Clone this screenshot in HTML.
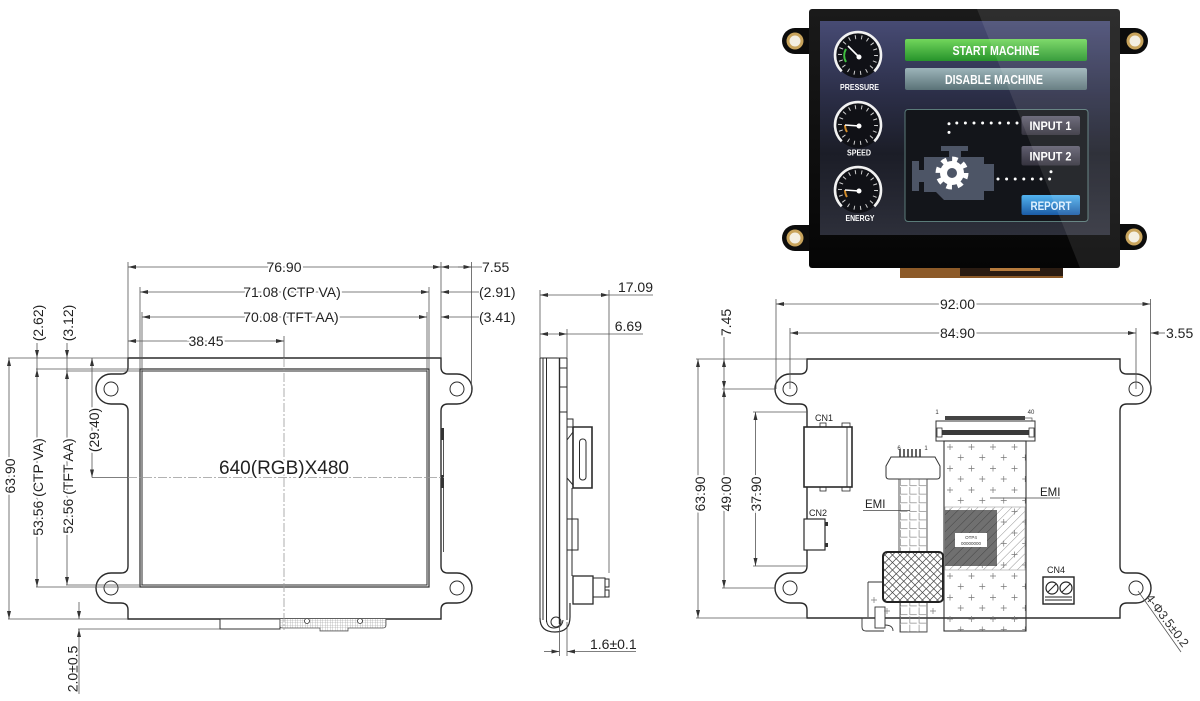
<!DOCTYPE html>
<html><head><meta charset="utf-8"><title>Display mechanical drawing</title>
<style>
html,body{margin:0;padding:0;background:#fff;width:1200px;height:701px;overflow:hidden}
svg{display:block}
text{font-family:"Liberation Sans",Arial,sans-serif}
.t{font-size:14px;fill:#222;stroke:#fff;stroke-width:4px;paint-order:stroke}
.tn{font-size:14px;fill:#222}
.b{font-weight:bold;fill:#fff}
</style>
</head><body>
<svg width="1200" height="701" viewBox="0 0 1200 701" xmlns="http://www.w3.org/2000/svg">
<defs>
 <marker id="m" viewBox="0 0 8 4" refX="8" refY="2" markerWidth="8" markerHeight="4" orient="auto-start-reverse" markerUnits="userSpaceOnUse"><path d="M0,0L8,2L0,4z" fill="#333"/></marker>
 <pattern id="plus" x="944" y="441" width="21.5" height="21.5" patternUnits="userSpaceOnUse"><path d="M3,6h6M6,3v6M13.75,16.5h6M16.75,13.5v6" stroke="#777" stroke-width="0.7"/></pattern>
 <pattern id="grid" x="899" y="478" width="9.3" height="8.6" patternUnits="userSpaceOnUse"><path d="M1.5,0.5V7.5H8.5" fill="none" stroke="#888" stroke-width="0.7"/></pattern>
 <pattern id="xh" width="7.5" height="7.5" patternUnits="userSpaceOnUse"><rect width="7.5" height="7.5" fill="#fff"/><path d="M0,0L7.5,7.5M7.5,0L0,7.5" stroke="#444" stroke-width="0.7"/></pattern>
 <pattern id="dh" width="6" height="6" patternUnits="userSpaceOnUse" patternTransform="rotate(45)"><path d="M0,0V6" stroke="#777" stroke-width="0.8"/></pattern>
 <pattern id="dk" width="6" height="6" patternUnits="userSpaceOnUse" patternTransform="rotate(45)"><rect width="6" height="6" fill="#707070"/><path d="M0,0V6" stroke="#3e3e3e" stroke-width="0.9"/></pattern>
 <pattern id="fh" width="2.5" height="2.5" patternUnits="userSpaceOnUse"><rect width="2.5" height="2.5" fill="#fff"/><path d="M0,0H2.5M0,0V2.5" stroke="#999" stroke-width="0.6"/></pattern>
 <linearGradient id="bez" x1="0" y1="0" x2="0" y2="1"><stop offset="0" stop-color="#1a1a1a"/><stop offset="1" stop-color="#050505"/></linearGradient>
 <linearGradient id="scr" x1="0" y1="0" x2="0" y2="1">
  <stop offset="0" stop-color="#474b74"/><stop offset="0.35" stop-color="#2b2e47"/><stop offset="0.62" stop-color="#1b1d27"/><stop offset="1" stop-color="#2d2f3a"/>
 </linearGradient>
 <linearGradient id="grn" x1="0" y1="0" x2="0" y2="1"><stop offset="0" stop-color="#72d65c"/><stop offset="1" stop-color="#26932b"/></linearGradient>
 <linearGradient id="gry" x1="0" y1="0" x2="0" y2="1"><stop offset="0" stop-color="#9cb4b9"/><stop offset="1" stop-color="#5a7277"/></linearGradient>
 <linearGradient id="inp" x1="0" y1="0" x2="0" y2="1"><stop offset="0" stop-color="#615f70"/><stop offset="1" stop-color="#35333e"/></linearGradient>
 <linearGradient id="blu" x1="0" y1="0" x2="0" y2="1"><stop offset="0" stop-color="#52b3ef"/><stop offset="1" stop-color="#1b5ca6"/></linearGradient>
</defs>

<!-- ================= PRODUCT PHOTO ================= -->
<g>
 <rect x="900" y="266" width="163" height="12" fill="#8c5a28"/>
 <rect x="960" y="266" width="103" height="10" fill="#2b1c12"/>
 <rect x="990" y="267" width="50" height="4" fill="#b57a3c"/>
 <g fill="#0c0c0c">
  <circle cx="795" cy="41" r="13"/><rect x="795" y="28" width="16" height="26"/>
  <circle cx="795" cy="238" r="13"/><rect x="795" y="225" width="16" height="26"/>
  <circle cx="1135" cy="41" r="13"/><rect x="1118" y="28" width="17" height="26"/>
  <circle cx="1134" cy="237" r="13"/><rect x="1118" y="224" width="16" height="26"/>
 </g>
 <g fill="#c9a45c"><circle cx="795" cy="41" r="8.5"/><circle cx="795" cy="238" r="8.5"/><circle cx="1135" cy="41" r="8.5"/><circle cx="1134" cy="237" r="8.5"/></g>
 <g fill="#f4efe2"><circle cx="795" cy="41" r="5.5"/><circle cx="795" cy="238" r="5.5"/><circle cx="1135" cy="41" r="5.5"/><circle cx="1134" cy="237" r="5.5"/></g>
 <rect x="809" y="9" width="311" height="259" rx="3" fill="url(#bez)"/>
 <rect x="820" y="21" width="290" height="214" fill="url(#scr)"/>
 <g transform="translate(858,55)">
  <circle r="23" fill="#101116"/>
  <path d="M-16.3,16.3A23,23 0 1 1 16.3,16.3" fill="none" stroke="#f2f2f2" stroke-width="2.6"/>
  <circle r="18" fill="none" stroke="#d0d0d0" stroke-width="4" stroke-dasharray="1 5.28"/>
  <path d="M-12,-6A13,13 0 0 0 -12,7" stroke="#3fbf3f" stroke-width="2" fill="none"/>
  <line x1="1" y1="2" x2="-10" y2="-9" stroke="#fff" stroke-width="1.6"/><circle cx="1" cy="2" r="2.5" fill="#fff"/>
 </g>
 <g transform="translate(858,125)">
  <circle r="23" fill="#101116"/>
  <path d="M-16.3,16.3A23,23 0 1 1 16.3,16.3" fill="none" stroke="#f2f2f2" stroke-width="2.6"/>
  <circle r="18" fill="none" stroke="#d0d0d0" stroke-width="4" stroke-dasharray="1 5.28"/>
  <path d="M-13,0A13,13 0 0 0 -11,7" stroke="#d08a2a" stroke-width="2" fill="none"/>
  <line x1="1" y1="1" x2="-13" y2="0" stroke="#fff" stroke-width="1.6"/><circle cx="1" cy="1" r="2.5" fill="#fff"/>
 </g>
 <g transform="translate(858,190)">
  <circle r="23" fill="#101116"/>
  <path d="M-16.3,16.3A23,23 0 1 1 16.3,16.3" fill="none" stroke="#f2f2f2" stroke-width="2.6"/>
  <circle r="18" fill="none" stroke="#d0d0d0" stroke-width="4" stroke-dasharray="1 5.28"/>
  <path d="M-13,0A13,13 0 0 0 -11,7" stroke="#d08a2a" stroke-width="2" fill="none"/>
  <line x1="1" y1="1" x2="-13" y2="0" stroke="#fff" stroke-width="1.6"/><circle cx="1" cy="1" r="2.5" fill="#fff"/>
 </g>
 <g font-size="8" class="b" text-anchor="middle">
  <text x="859.5" y="90" textLength="39" lengthAdjust="spacingAndGlyphs">PRESSURE</text>
  <text x="859" y="155.5" textLength="24" lengthAdjust="spacingAndGlyphs">SPEED</text>
  <text x="860" y="221" textLength="29" lengthAdjust="spacingAndGlyphs">ENERGY</text>
 </g>
 <rect x="905" y="39" width="182" height="22" rx="2" fill="url(#grn)"/>
 <rect x="905" y="68" width="182" height="22" rx="2" fill="url(#gry)"/>
 <g font-size="13" class="b" text-anchor="middle">
  <text x="996" y="55" textLength="87" lengthAdjust="spacingAndGlyphs">START MACHINE</text>
  <text x="994" y="84" textLength="98" lengthAdjust="spacingAndGlyphs">DISABLE MACHINE</text>
 </g>
 <rect x="905" y="109.5" width="183" height="112" rx="3" fill="#13151a" stroke="#5b7b79" stroke-width="1"/>
 <rect x="1021.5" y="116" width="58.5" height="19" rx="2" fill="url(#inp)"/>
 <rect x="1021.5" y="146" width="58.5" height="19.5" rx="2" fill="url(#inp)"/>
 <rect x="1021.5" y="195" width="58.5" height="20" rx="2" fill="url(#blu)"/>
 <g font-size="11.5" class="b" text-anchor="middle">
  <text x="1050.5" y="130" textLength="42" lengthAdjust="spacingAndGlyphs">INPUT 1</text>
  <text x="1050.5" y="160.5" textLength="42" lengthAdjust="spacingAndGlyphs">INPUT 2</text>
  <text x="1051" y="210" textLength="41" lengthAdjust="spacingAndGlyphs" style="fill:#dff1ff">REPORT</text>
 </g>
 <g stroke="#fff" stroke-width="3" stroke-linecap="round" stroke-dasharray="0 8.6" fill="none">
  <path d="M1017,123H949V141"/>
  <path d="M998,179H1051V170"/>
 </g>
 <g fill="#4d5566">
  <rect x="941" y="146" width="27" height="5"/>
  <rect x="949" y="150" width="12" height="7"/>
  <path d="M924,157H984V164H994V191H984V200H944L936,192H924Z"/>
  <rect x="912" y="161" width="7" height="30"/>
  <rect x="918" y="170" width="8" height="12"/>
 </g>
 <circle cx="952" cy="173" r="14" fill="none" stroke="#fff" stroke-width="5" stroke-dasharray="5.5 5.5"/>
 <circle cx="952" cy="173" r="12" fill="#fff"/>
 <circle cx="952" cy="173" r="5" fill="#4d5566"/>
 <polygon points="977,9 1120,9 1120,268 1080,268" fill="#fff" opacity="0.09"/>
</g>

<!-- ================= FRONT VIEW ================= -->
<g fill="none" stroke="#2a2a2a" stroke-width="1.4">
 <path d="M128,358H441V367Q441,374 448,374H457A15,15 0 0 1 457,404H448Q441,404 441,411V566Q441,573 448,573H457A15,15 0 0 1 457,603H448Q441,603 441,610V619H128V610Q128,603 121,603H111A15,15 0 0 1 111,573H121Q128,573 128,566V411Q128,404 121,404H111A15,15 0 0 1 111,374H121Q128,374 128,367Z"/>
 <g stroke-width="1"><circle cx="111" cy="389" r="7"/><circle cx="111" cy="588" r="7"/><circle cx="457" cy="389" r="7"/><circle cx="457" cy="588" r="7"/></g>
 <rect x="140" y="369" width="289" height="218" stroke-width="1.2"/>
 <rect x="142" y="371" width="285" height="214" stroke-width="1"/>
 <path d="M443.5,428V552" stroke-width="0.8"/>
</g>
<rect x="441" y="428" width="3" height="12" fill="#333"/>
<rect x="441" y="475" width="3" height="13" fill="#333"/>
<rect x="220" y="619" width="60" height="10" fill="#fff" stroke="#333" stroke-width="1"/>
<path d="M280,619V626Q280,628 283,628H320V631H348V628H383Q386,628 386,625V619" fill="url(#fh)" stroke="#555" stroke-width="0.8"/>
<circle cx="307" cy="621" r="2.5" fill="#fff" stroke="#333" stroke-width="0.8"/>
<circle cx="360" cy="621" r="2.5" fill="#fff" stroke="#333" stroke-width="0.8"/>
<g stroke="#999" stroke-width="0.8" fill="none" stroke-dasharray="9 2 2 2">
 <path d="M284,358V630"/>
 <path d="M128,477.5H444"/>
</g>
<text x="284" y="474" font-size="19" fill="#222" text-anchor="middle" stroke="#fff" stroke-width="4" paint-order="stroke">640(RGB)X480</text>

<g stroke="#555" stroke-width="0.8" fill="none">
 <path d="M128,262V358M441,262V358M140,287V369M429,287V369M142,312V371M427,312V371M471.5,262V389M284,336V358"/>
 <line x1="128" y1="267" x2="441" y2="267" marker-start="url(#m)" marker-end="url(#m)"/>
 <line x1="441" y1="267" x2="482" y2="267" marker-start="url(#m)"/>
 <line x1="458" y1="267" x2="471.5" y2="267" marker-end="url(#m)"/>
 <line x1="441" y1="292" x2="479" y2="292" marker-start="url(#m)"/>
 <line x1="441" y1="317" x2="479" y2="317" marker-start="url(#m)"/>
 <line x1="140" y1="292" x2="429" y2="292" marker-start="url(#m)" marker-end="url(#m)"/>
 <line x1="142" y1="317" x2="427" y2="317" marker-start="url(#m)" marker-end="url(#m)"/>
 <line x1="128" y1="341" x2="284" y2="341" marker-start="url(#m)" marker-end="url(#m)"/>
 <path d="M8,358H128M36,369H140M66,371H142M36,587H140M66,585H142M8,619H128M92,477.5H128M78,629H220"/>
 <line x1="9" y1="358" x2="9" y2="619" marker-start="url(#m)" marker-end="url(#m)"/>
 <line x1="37" y1="343" x2="37" y2="358" marker-end="url(#m)"/>
 <line x1="37" y1="358" x2="37" y2="369"/>
 <line x1="37" y1="369" x2="37" y2="587" marker-start="url(#m)" marker-end="url(#m)"/>
 <line x1="67" y1="343" x2="67" y2="358" marker-end="url(#m)"/>
 <line x1="67" y1="358" x2="67" y2="371"/>
 <line x1="67" y1="371" x2="67" y2="585" marker-start="url(#m)" marker-end="url(#m)"/>
 <line x1="92" y1="358" x2="92" y2="477.5" marker-start="url(#m)" marker-end="url(#m)"/>
 <line x1="79" y1="602" x2="79" y2="619" marker-end="url(#m)"/>
 <line x1="79" y1="629" x2="79" y2="694" marker-start="url(#m)"/>
</g>
<g text-anchor="middle">
 <text class="t" x="284" y="272">76.90</text>
 <text class="t" x="292" y="297">71.08 (CTP VA)</text>
 <text class="t" x="291" y="322">70.08 (TFT AA)</text>
 <text class="t" x="206" y="346">38.45</text>
 <text class="t" transform="translate(15,476) rotate(-90)">63.90</text>
 <text class="t" transform="translate(43,487) rotate(-90)">53.56 (CTP VA)</text>
 <text class="t" transform="translate(73,486) rotate(-90)">52.56 (TFT AA)</text>
 <text class="t" transform="translate(99,430) rotate(-90)">(29.40)</text>
 <text class="tn" transform="translate(43,323) rotate(-90)">(2.62)</text>
 <text class="tn" transform="translate(73,323) rotate(-90)">(3.12)</text>
 <text class="tn" transform="translate(77.5,669) rotate(-90)">2.0±0.5</text>
</g>
<text class="tn" x="482" y="272">7.55</text>
<text class="tn" x="479" y="297">(2.91)</text>
<text class="tn" x="479" y="322">(3.41)</text>

<!-- ================= SIDE VIEW ================= -->
<g fill="none" stroke="#2a2a2a" stroke-width="1">
 <path d="M540,358H567"/>
 <path d="M540,358V618M543,358V620M546.5,358V622"/>
 <path d="M559.5,358V624" stroke-width="1.4"/>
 <path d="M567,358V419M567,488V620"/>
 <path d="M559.5,368H567M559.5,387H567M559.5,412H567"/>
 <path d="M540,618Q540,632 555,632Q570,632 570,617V603" stroke-width="1.2"/>
 <path d="M546.5,620Q547,628 554,628Q562,628 563,620"/>
 <circle cx="556" cy="622" r="5"/>
 <rect x="567" y="419" width="6" height="8"/>
 <path d="M573,427H592V488H573V427" stroke-width="1.6"/>
 <path d="M567,440L573,432M567,478L573,485M567,427V488"/>
 <rect x="579.5" y="439" width="6.5" height="41" rx="3"/>
 <path d="M572,488V576"/>
 <rect x="567" y="519" width="11" height="31"/>
 <rect x="573" y="576" width="20" height="28" stroke-width="1.3"/>
 <path d="M593,578H605V597H593"/>
 <rect x="605" y="579" width="4" height="8"/><rect x="605" y="590" width="4" height="7"/>
</g>
<g stroke="#555" stroke-width="0.8" fill="none">
 <path d="M540,290V358M609,290V573M567,329V358M559.5,624V656M567,622V656"/>
 <line x1="540" y1="295" x2="609" y2="295" marker-start="url(#m)" marker-end="url(#m)"/>
 <path d="M609,295H653"/>
 <line x1="540" y1="334" x2="567" y2="334" marker-start="url(#m)" marker-end="url(#m)"/>
 <path d="M567,334H643"/>
 <line x1="544" y1="651.5" x2="559.5" y2="651.5" marker-end="url(#m)"/>
 <line x1="567" y1="651.5" x2="636" y2="651.5" marker-start="url(#m)"/>
</g>
<text class="tn" x="653" y="292" text-anchor="end">17.09</text>
<text class="tn" x="642" y="331" text-anchor="end">6.69</text>
<text class="tn" x="590" y="649">1.6±0.1</text>

<!-- ================= BACK VIEW ================= -->
<g fill="none" stroke="#2a2a2a" stroke-width="1.4">
 <path d="M807,359H1120V367Q1120,374 1127,374H1136A15,15 0 0 1 1136,404H1127Q1120,404 1120,411V566Q1120,573 1127,573H1136A15,15 0 0 1 1136,603H1127Q1120,603 1120,610V618H807V610Q807,603 800,603H790A15,15 0 0 1 790,573H800Q807,573 807,566V411Q807,404 800,404H790A15,15 0 0 1 790,374H800Q807,374 807,367Z"/>
 <g stroke-width="1"><circle cx="790" cy="389" r="7"/><circle cx="790" cy="588" r="7"/><circle cx="1136" cy="389" r="7"/><circle cx="1136" cy="588" r="7"/></g>
</g>
<g fill="#fff" stroke="#2a2a2a">
 <rect x="820" y="423" width="6" height="5" stroke-width="0.8"/><rect x="842" y="423" width="8" height="5" stroke-width="0.8"/>
 <rect x="820" y="486" width="6" height="5" stroke-width="0.8"/><rect x="842" y="486" width="8" height="5" stroke-width="0.8"/>
 <rect x="804" y="427" width="48" height="60" stroke-width="1.6"/>
 <path d="M847,427V487" stroke-width="0.8"/>
 <rect x="804" y="519" width="21" height="31" stroke-width="1.2"/>
</g>
<rect x="825" y="522" width="3" height="4" fill="#333"/><rect x="825" y="543" width="3" height="4" fill="#333"/>
<g font-size="9" fill="#222" text-anchor="middle">
 <text x="824" y="421">CN1</text>
 <text x="818" y="516">CN2</text>
 <text x="1056" y="573">CN4</text>
</g>
<g fill="none" stroke="#333" stroke-width="0.9">
 <path d="M868,582H883M868,582V617"/>
 <path d="M883,618H862V627Q862,631 866,631H884"/>
 <rect x="875" y="607" width="10" height="21" fill="#fff"/>
 <path d="M885,625Q893,625 893,631"/>
</g>
<g stroke="#777" stroke-width="0.7"><path d="M871,600h6M874,597v6M884,611h6M887,608v6M930,611h6M933,608v6M932,598h6M935,595v6"/></g>
<g stroke="#333" stroke-width="1.5"><path d="M900,449V457M904,449V457M908,449V457M912,449V457M916,449V457M920,449V457"/></g>
<text x="899" y="450" font-size="6" fill="#333" text-anchor="middle">6</text>
<text x="926" y="450" font-size="6" fill="#333" text-anchor="middle">1</text>
<path d="M891,457H935L940,466V476Q940,479 937,479H889Q886,479 886,476V466Z" fill="#fff" stroke="#333" stroke-width="1"/>
<rect x="899" y="479" width="28" height="73" fill="url(#grid)" stroke="#444" stroke-width="0.9"/>
<rect x="900" y="602" width="27" height="30" fill="url(#grid)" stroke="#444" stroke-width="0.9"/>
<rect x="883" y="552" width="60" height="50" rx="4" fill="url(#xh)" stroke="#222" stroke-width="2"/>
<rect x="945" y="416" width="80" height="4" fill="#444"/>
<path d="M1025,418H1032V421" fill="none" stroke="#555" stroke-width="0.7"/>
<rect x="936" y="421" width="99" height="20" fill="#fff" stroke="#333" stroke-width="1"/>
<rect x="941" y="430" width="89" height="5" fill="#3a3a3a"/>
<rect x="937" y="428" width="5" height="9" fill="#fff" stroke="#333" stroke-width="0.8"/>
<rect x="1029" y="428" width="5" height="9" fill="#fff" stroke="#333" stroke-width="0.8"/>
<text x="937" y="414" font-size="6" fill="#333" text-anchor="middle">1</text>
<text x="1031" y="414" font-size="6" fill="#333" text-anchor="middle">40</text>
<rect x="944" y="441" width="82" height="190" fill="url(#plus)" stroke="#333" stroke-width="1.1"/>
<rect x="945" y="507" width="80" height="63" fill="url(#dh)" stroke="#aaa" stroke-width="0.7"/>
<rect x="945" y="510" width="52" height="56" fill="url(#dk)"/>
<rect x="955" y="533" width="32" height="14" fill="#fff"/>
<text x="971" y="539" font-size="4.5" fill="#333" text-anchor="middle">OTP4</text>
<text x="971" y="545" font-size="4.5" fill="#333" text-anchor="middle">00000000</text>
<rect x="1043" y="577" width="31" height="27" fill="#fff" stroke="#222" stroke-width="1.4"/>
<g fill="#fff" stroke="#222" stroke-width="1.2">
 <circle cx="1052" cy="588" r="6"/><circle cx="1066" cy="588" r="6"/>
</g>
<path d="M1048,592L1056,584M1062,592L1070,584M1045,597H1072M1045,600H1072" stroke="#222" stroke-width="1"/>
<path d="M863,510.5H910M990,498H1060" stroke="#444" stroke-width="0.8"/>
<text x="865" y="508" font-size="11.5" fill="#222">EMI</text>
<text x="1040" y="496" font-size="11.5" fill="#222">EMI</text>
<path d="M1138,591L1181,652" stroke="#555" stroke-width="0.8"/>
<text transform="translate(1145,598) rotate(53)" font-size="12.5" fill="#333">4-Φ3.5±0.2</text>

<g stroke="#555" stroke-width="0.8" fill="none">
 <path d="M776,299V389M1150.5,299V389M790,328V389M1136,328V389"/>
 <line x1="776" y1="304" x2="1150.5" y2="304" marker-start="url(#m)" marker-end="url(#m)"/>
 <line x1="790" y1="333" x2="1136" y2="333" marker-start="url(#m)" marker-end="url(#m)"/>
 <line x1="1150.5" y1="333" x2="1165" y2="333" marker-start="url(#m)"/>
 <path d="M696,359H807M696,618H807M722,389H776M722,588H776M753,412H807M753,566H807"/>
 <line x1="698" y1="359" x2="698" y2="618" marker-start="url(#m)" marker-end="url(#m)"/>
 <path d="M724,337V359"/>
 <line x1="724" y1="359" x2="724" y2="389" marker-start="url(#m)" marker-end="url(#m)"/>
 <line x1="724" y1="389" x2="724" y2="588" marker-start="url(#m)" marker-end="url(#m)"/>
 <line x1="755.5" y1="412" x2="755.5" y2="566" marker-start="url(#m)" marker-end="url(#m)"/>
</g>
<g text-anchor="middle">
 <text class="t" x="957.5" y="309">92.00</text>
 <text class="t" x="957.5" y="338">84.90</text>
 <text class="tn" transform="translate(731,322.5) rotate(-90)">7.45</text>
 <text class="t" transform="translate(705,494) rotate(-90)">63.90</text>
 <text class="t" transform="translate(731,494) rotate(-90)">49.00</text>
 <text class="t" transform="translate(761,494) rotate(-90)">37.90</text>
</g>
<text class="tn" x="1166" y="338">3.55</text>
</svg>
</body></html>
